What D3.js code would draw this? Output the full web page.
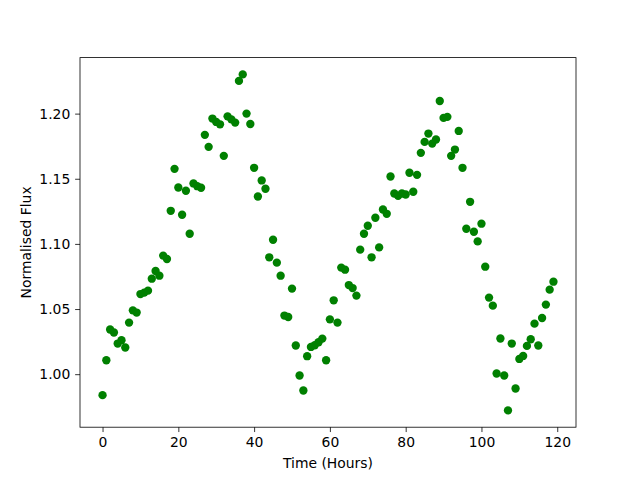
<!DOCTYPE html>
<html>
<head>
<meta charset="utf-8">
<script src="https://cdn.jsdelivr.net/npm/d3@7/dist/d3.min.js"></script>
<style>
  html, body { margin: 0; padding: 0; background: #fff; }
  text { font-family: "DejaVu Sans", sans-serif; }
</style>
</head>
<body>
<svg id="chart" width="640" height="480"></svg>
<script>
const hours = d3.range(0, 120);
const flux = [
  0.9839, 1.0107, 1.0343, 1.0320, 1.0235, 1.0261, 1.0205, 1.0396, 1.0490, 1.0473,
  1.0615, 1.0626, 1.0641, 1.0733, 1.0792, 1.0756, 1.0910, 1.0884, 1.1254, 1.1576,
  1.1433, 1.1224, 1.1408, 1.1078, 1.1464, 1.1443, 1.1431, 1.1837, 1.1745, 1.1962,
  1.1936, 1.1918, 1.1676, 1.1979, 1.1956, 1.1931, 1.2251, 1.2301, 1.2000, 1.1920,
  1.1584, 1.1364, 1.1487, 1.1423, 1.0897, 1.1032, 1.0856, 1.0756, 1.0450, 1.0439,
  1.0657, 1.0220, 0.9990, 0.9875, 1.0138, 1.0209, 1.0222, 1.0245, 1.0273, 1.0107,
  1.0421, 1.0567, 1.0396, 1.0818, 1.0802, 1.0684, 1.0661, 1.0603, 1.0956, 1.1078,
  1.1139, 1.0897, 1.1201, 1.0973, 1.1264, 1.1231, 1.1517, 1.1387, 1.1369, 1.1387,
  1.1379, 1.1546, 1.1400, 1.1530, 1.1699, 1.1783, 1.1847, 1.1770, 1.1801, 1.2097,
  1.1967, 1.1975, 1.1676, 1.1724, 1.1867, 1.1584, 1.1116, 1.1323, 1.1093, 1.1019,
  1.1155, 1.0825, 1.0588, 1.0526, 1.0005, 1.0274, 0.9990, 0.9722, 1.0235, 0.9890,
  1.0117, 1.0140, 1.0217, 1.0268, 1.0388, 1.0220, 1.0431, 1.0534, 1.0649, 1.0710
];
const xTicks = [0, 20, 40, 60, 80, 100, 120];
const yTicks = [1.00, 1.05, 1.10, 1.15, 1.20];
const xLabel = "Time (Hours)";
const yLabel = "Normalised Flux";

const svg = d3.select("#chart");
const L = 80, R = 576, T = 57.6, B = 427.2;

function padded(ext) {
  const d = (ext[1] - ext[0]) * 0.05;
  return [ext[0] - d, ext[1] + d];
}
const x = d3.scaleLinear().domain(padded(d3.extent(hours))).range([L, R]);
const y = d3.scaleLinear().domain(padded(d3.extent(flux))).range([B, T]);

const fs = "13.9px";

// points
svg.append("g").selectAll("circle")
  .data(hours.map((h, i) => [h, flux[i]]))
  .join("circle")
  .attr("cx", d => x(d[0]))
  .attr("cy", d => y(d[1]))
  .attr("r", 4.17)
  .attr("fill", "#008000");

// axes
const xAxis = d3.axisBottom(x).tickValues(xTicks).tickSize(4.86).tickPadding(4.86).tickFormat(d3.format("d"));
const yAxis = d3.axisLeft(y).tickValues(yTicks).tickSize(4.86).tickPadding(4.86).tickFormat(d3.format(".2f"));

const gx = svg.append("g").attr("transform", `translate(0,${B})`).call(xAxis);
const gy = svg.append("g").attr("transform", `translate(${L},0)`).call(yAxis);
[gx, gy].forEach(g => {
  g.select(".domain").remove();
  g.selectAll(".tick line").attr("stroke", "#000").attr("stroke-width", 0.8);
  g.selectAll(".tick text").attr("fill", "#000").style("font-size", fs).style("font-family", "DejaVu Sans");
});

// frame
svg.append("rect").attr("x", L).attr("y", T).attr("width", R - L).attr("height", B - T)
  .attr("fill", "none").attr("stroke", "#000").attr("stroke-width", 0.8);

svg.append("text").attr("x", (L + R) / 2).attr("y", 468)
  .attr("text-anchor", "middle").style("font-size", fs).text(xLabel);
svg.append("text").attr("transform", `translate(31,${(T + B) / 2}) rotate(-90)`)
  .attr("text-anchor", "middle").style("font-size", fs).text(yLabel);
</script>
</body>
</html>
